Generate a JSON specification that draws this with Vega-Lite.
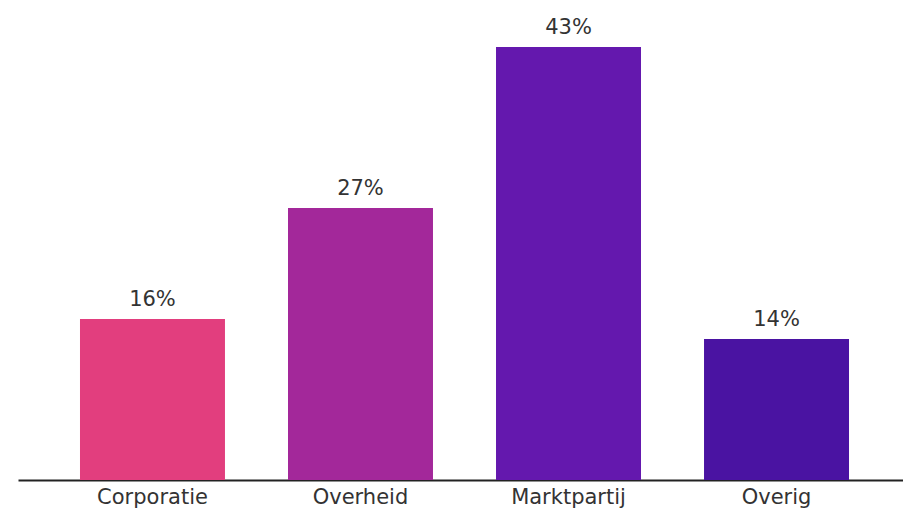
{
  "$schema": "https://vega.github.io/schema/vega-lite/v6.json",
  "autosize": "none",
  "width": 893,
  "height": 433,
  "padding": {"left": 18, "top": 47, "right": 0, "bottom": 36},
  "background": "#ffffff",
  "config": {"view": {"stroke": null}},
  "data": {"values": [
    {"cat": "Corporatie", "pct": 16, "label": "16%", "color": "#e23e7e"},
    {"cat": "Overheid", "pct": 27, "label": "27%", "color": "#a3289a"},
    {"cat": "Marktpartij", "pct": 43, "label": "43%", "color": "#6418ae"},
    {"cat": "Overig", "pct": 14, "label": "14%", "color": "#4a13a2"}
  ]},
  "encoding": {
    "x": {"field": "cat", "type": "nominal", "sort": null,
      "scale": {"paddingInner": 0.303, "paddingOuter": 0.298},
      "axis": {"title": null, "labelAngle": 0, "ticks": false, "domainColor": "#222222", "domainWidth": 2,
        "labelFont": "DejaVu Sans", "labelFontSize": 21, "labelColor": "#333333", "labelPadding": 6}},
    "y": {"field": "pct", "type": "quantitative", "scale": {"domain": [0, 43], "nice": false}, "axis": null}
  },
  "layer": [
    {"mark": {"type": "bar"}, "encoding": {"color": {"field": "color", "type": "nominal", "scale": null}}},
    {"mark": {"type": "text", "baseline": "bottom", "dy": -9, "font": "DejaVu Sans", "fontSize": 21, "color": "#333333"},
     "encoding": {"text": {"field": "label"}}}
  ]
}
